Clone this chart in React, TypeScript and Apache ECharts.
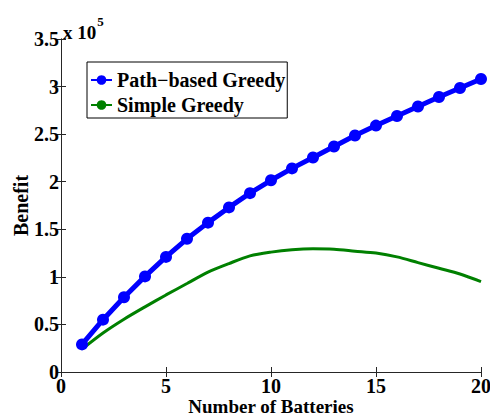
import React, { useEffect, useRef } from "react";
import * as echarts from "echarts";

const batteries = [1, 2, 3, 4, 5, 6, 7, 8, 9, 10, 11, 12, 13, 14, 15, 16, 17, 18, 19, 20];
const pathGreedy = [29000, 55000, 78500, 100500, 121000, 140000, 157000, 173000, 188000, 201500, 214000, 225500, 237000, 248500, 259000, 269000, 279000, 289000, 298500, 308000];
const simpleGreedy = [24000, 41000, 55500, 68500, 81000, 93000, 105000, 114000, 122000, 126000, 128500, 129500, 129000, 127000, 125000, 121000, 115000, 109000, 103000, 95000];
const seriesNames = ["Path\u2212based Greedy", "Simple Greedy"];
const xTicks = { min: 0, max: 20, interval: 5 };
const yTicks = { min: 0, max: 350000, interval: 50000 };

const FONT = "Liberation Serif";

export default function App() {
  const ref = useRef<HTMLDivElement>(null);
  useEffect(() => {
    if (!ref.current) return;
    const chart = echarts.init(ref.current, null, { renderer: "svg" });
    const axisLine = { show: true, lineStyle: { color: "#262626", width: 1 } };
    const tickStyle = { show: true, inside: true, length: 5, lineStyle: { color: "#262626" } };
    const labelStyle = { fontFamily: FONT, fontWeight: "bold" as const, fontSize: 20, color: "#000" };
    chart.setOption({
      animation: false,
      grid: { left: 61, right: 9, top: 39, bottom: 44, containLabel: false, outerBoundsMode: "none" },
      legend: {
        orient: "vertical",
        left: 87,
        top: 62,
        padding: [8, 2, 3, 3],
        itemGap: 5,
        itemWidth: 21,
        itemHeight: 12,
        borderColor: "#000",
        borderWidth: 1,
        backgroundColor: "#fff",
        textStyle: { ...labelStyle, lineHeight: 20 },
        data: seriesNames,
      },
      xAxis: [
        {
          type: "value",
          ...xTicks,
          name: "Number of Batteries",
          nameLocation: "middle",
          nameGap: 27,
          nameMoveOverlap: false,
          nameTextStyle: { ...labelStyle, fontSize: 19, lineHeight: 14 },
          axisLine,
          axisTick: tickStyle,
          splitLine: { show: false },
          axisLabel: { ...labelStyle, lineHeight: 14, margin: 7 },
        },
        {
          type: "value",
          position: "top",
          ...xTicks,
          axisLine,
          axisTick: tickStyle,
          splitLine: { show: false },
          axisLabel: { show: false },
        },
      ],
      yAxis: [
        {
          type: "value",
          ...yTicks,
          name: "Benefit",
          nameLocation: "middle",
          nameGap: 30,
          nameMoveOverlap: false,
          nameTextStyle: labelStyle,
          axisLine,
          axisTick: tickStyle,
          splitLine: { show: false },
          axisLabel: {
            ...labelStyle,
            margin: 2,
            formatter: (v: number) => String(v / 100000),
          },
        },
        {
          type: "value",
          position: "right",
          ...yTicks,
          axisLine,
          axisTick: tickStyle,
          splitLine: { show: false },
          axisLabel: { show: false },
        },
      ],
      graphic: [
        {
          type: "text",
          left: 63,
          top: 15,
          style: {
            text: "{a|x 10}{b|5}",
            rich: {
              a: { ...labelStyle, fontSize: 19, padding: [8, 0, 0, 0] },
              b: { ...labelStyle, fontSize: 13, verticalAlign: "top", padding: [0, 0, 0, 1] },
            },
          },
        },
      ],
      series: [
        {
          name: seriesNames[0],
          type: "line",
          data: batteries.map((b, i) => [b, pathGreedy[i]]),
          symbol: "circle",
          symbolSize: 12,
          lineStyle: { color: "#0000ff", width: 5 },
          itemStyle: { color: "#0000ff" },
          z: 3,
        },
        {
          name: seriesNames[1],
          type: "line",
          data: batteries.map((b, i) => [b, simpleGreedy[i]]),
          symbol: "none",
          smooth: 0.3,
          lineStyle: { color: "#008000", width: 3 },
          itemStyle: { color: "#008000" },
          z: 2,
        },
      ],
    });
    return () => chart.dispose();
  }, []);
  return <div ref={ref} style={{ width: 490, height: 416, position: "absolute", left: 0, top: 0 }} />;
}
